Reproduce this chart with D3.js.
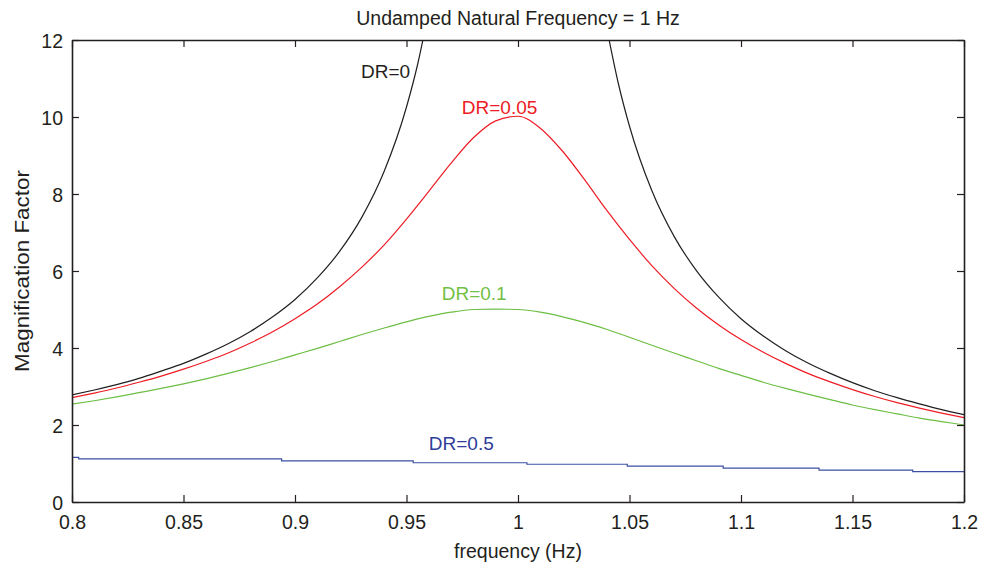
<!DOCTYPE html>
<html>
<head>
<meta charset="utf-8">
<script src="https://cdn.jsdelivr.net/npm/d3@7"></script>
<style>
  html, body { margin: 0; padding: 0; background: #fff; }
  svg { display: block; font-family: "Liberation Sans", Arial, Helvetica, sans-serif; }
</style>
</head>
<body>
<svg id="chart" width="981" height="567"></svg>
<script>
// ---------- data ----------
const titleText = "Undamped Natural Frequency = 1 Hz";
const xLabelText = "frequency (Hz)";
const yLabelText = "Magnification Factor";

const xTicks = [0.8, 0.85, 0.9, 0.95, 1, 1.05, 1.1, 1.15, 1.2];
const xTickLabels = ["0.8", "0.85", "0.9", "0.95", "1", "1.05", "1.1", "1.15", "1.2"];
const yTicks = [0, 2, 4, 6, 8, 10, 12];

// shared frequency grid (Hz)
const freq = [0.80, 0.81, 0.82, 0.83, 0.84, 0.85, 0.86, 0.87, 0.88, 0.89,
              0.90, 0.91, 0.92, 0.93, 0.94, 0.95, 0.96, 0.97, 0.98, 0.99,
              1.00, 1.01, 1.02, 1.03, 1.04, 1.05, 1.06, 1.07, 1.08, 1.09,
              1.10, 1.11, 1.12, 1.13, 1.14, 1.15, 1.16, 1.17, 1.18, 1.19, 1.20];

// DR = 0 (undamped) – two branches that leave the top of the axes near resonance
const freqDR0Left  = [0.80, 0.81, 0.82, 0.83, 0.84, 0.85, 0.86, 0.87, 0.88, 0.89,
                      0.90, 0.91, 0.92, 0.93, 0.94, 0.95, 0.955, 0.96];
const valDR0Left   = [2.78, 2.91, 3.05, 3.21, 3.40, 3.60, 3.84, 4.11, 4.43, 4.81,
                      5.26, 5.82, 6.51, 7.40, 8.59, 10.26, 11.37, 12.76];
const freqDR0Right = [1.04, 1.045, 1.05, 1.06, 1.07, 1.08, 1.09,
                      1.10, 1.11, 1.12, 1.13, 1.14, 1.15, 1.16, 1.17, 1.18, 1.19, 1.20];
const valDR0Right  = [12.25, 10.87, 9.76, 8.09, 6.90, 6.01, 5.32,
                      4.76, 4.31, 3.93, 3.61, 3.34, 3.10, 2.89, 2.71, 2.55, 2.40, 2.27];

// DR = 0.05
const valDR005 = [2.71, 2.83, 2.96, 3.11, 3.27, 3.45, 3.65, 3.87, 4.13, 4.42,
                  4.76, 5.14, 5.59, 6.10, 6.68, 7.35, 8.07, 8.80, 9.46, 9.90,
                  10.02, 9.71, 9.11, 8.36, 7.56, 6.82, 6.14, 5.55, 5.04, 4.60,
                  4.22, 3.89, 3.60, 3.34, 3.12, 2.92, 2.74, 2.58, 2.44, 2.31, 2.19];

// DR = 0.1
const valDR01 = [2.54, 2.63, 2.73, 2.84, 2.95, 3.07, 3.20, 3.34, 3.49, 3.65,
                 3.82, 3.99, 4.17, 4.35, 4.52, 4.68, 4.82, 4.93, 5.00, 5.01,
                 5.00, 4.93, 4.81, 4.66, 4.48, 4.28, 4.07, 3.87, 3.67, 3.47,
                 3.29, 3.11, 2.95, 2.80, 2.66, 2.52, 2.40, 2.29, 2.18, 2.09, 2.00];

// DR = 0.5 (drawn as a staircase in the reference)
const freqDR05 = [0.800, 0.803, 0.894, 0.953, 1.004, 1.049, 1.092, 1.135, 1.177, 1.200];
const valDR05  = [1.16, 1.12, 1.07, 1.02, 0.98, 0.93, 0.88, 0.83, 0.79, 0.79];

const seriesNames = ["DR=0", "DR=0.05", "DR=0.1", "DR=0.5"];
const seriesColors = ["#231f20", "#ed1c24", "#6dbe45", "#3b4fa3"];
const labelColors = ["#231f20", "#ed1c24", "#72bf44", "#2e3d98"];
// label anchor points (frequency, magnification)
const labelFreq = [0.9296, 0.9748, 0.9658, 0.9600];
const labelVal  = [11.01, 10.08, 5.25, 1.35];

// ---------- layout ----------
const svg = d3.select("#chart");
const L = 72, R = 964, T = 40, B = 502;
const axisColor = "#231f20";
const fontSize = 19.5;

const x = d3.scaleLinear().domain([0.8, 1.2]).range([L, R]);
const y = d3.scaleLinear().domain([0, 12]).range([B, T]);

svg.append("defs").append("clipPath").attr("id", "clip")
  .append("rect").attr("x", L).attr("y", T).attr("width", R - L).attr("height", B - T);

// ---------- lines ----------
const plot = svg.append("g").attr("clip-path", "url(#clip)");

function drawSeries(fs, vs, color, curve) {
  const pts = fs.map((f, i) => [f, vs[i]]);
  plot.append("path")
    .attr("d", d3.line().x(d => x(d[0])).y(d => y(d[1])).curve(curve)(pts))
    .attr("fill", "none")
    .attr("stroke", color)
    .attr("stroke-width", 1.2);
}

drawSeries(freqDR0Left, valDR0Left, seriesColors[0], d3.curveMonotoneX);
drawSeries(freqDR0Right, valDR0Right, seriesColors[0], d3.curveMonotoneX);
drawSeries(freq, valDR005, seriesColors[1], d3.curveMonotoneX);
drawSeries(freq, valDR01, seriesColors[2], d3.curveMonotoneX);
drawSeries(freqDR05, valDR05, seriesColors[3], d3.curveStepAfter);

// ---------- axes (box with inward ticks on all sides) ----------
const tickLen = 7;
const gBottom = svg.append("g").attr("transform", `translate(0,${B})`)
  .call(d3.axisBottom(x).tickValues(xTicks).tickSizeInner(-tickLen).tickSizeOuter(0)
    .tickFormat((d, i) => xTickLabels[i]));
const gTop = svg.append("g").attr("transform", `translate(0,${T})`)
  .call(d3.axisTop(x).tickValues(xTicks).tickSizeInner(-tickLen).tickSizeOuter(0).tickFormat(""));
const gLeft = svg.append("g").attr("transform", `translate(${L},0)`)
  .call(d3.axisLeft(y).tickValues(yTicks).tickSizeInner(-tickLen).tickSizeOuter(0));
const gRight = svg.append("g").attr("transform", `translate(${R},0)`)
  .call(d3.axisRight(y).tickValues(yTicks).tickSizeInner(-tickLen).tickSizeOuter(0).tickFormat(""));

[gBottom, gTop, gLeft, gRight].forEach(g => {
  g.select(".domain").attr("stroke", axisColor).attr("stroke-width", 1.6);
  g.selectAll(".tick line").attr("stroke", axisColor).attr("stroke-width", 1.2);
  g.selectAll(".tick text").attr("fill", axisColor)
    .attr("font-size", fontSize).attr("font-family", "Liberation Sans, Arial, sans-serif");
});
gBottom.selectAll(".tick text").attr("y", 27).attr("dy", 0);
gLeft.selectAll(".tick text").attr("x", -9).attr("dy", "0.36em");

// ---------- texts ----------
svg.append("text")
  .attr("x", (L + R) / 2).attr("y", 25)
  .attr("text-anchor", "middle")
  .attr("font-size", fontSize).attr("fill", axisColor)
  .text(titleText);

svg.append("text")
  .attr("x", (L + R) / 2).attr("y", 558)
  .attr("text-anchor", "middle")
  .attr("font-size", fontSize).attr("fill", axisColor)
  .text(xLabelText);

svg.append("text")
  .attr("transform", `translate(29,${(T + B) / 2}) rotate(-90)`)
  .attr("text-anchor", "middle")
  .attr("font-size", 20).attr("fill", axisColor)
  .attr("textLength", 202).attr("lengthAdjust", "spacingAndGlyphs")
  .text(yLabelText);

seriesNames.forEach((name, i) => {
  svg.append("text")
    .attr("x", x(labelFreq[i])).attr("y", y(labelVal[i]))
    .attr("font-size", 19).attr("fill", labelColors[i])
    .text(name);
});
</script>
</body>
</html>
